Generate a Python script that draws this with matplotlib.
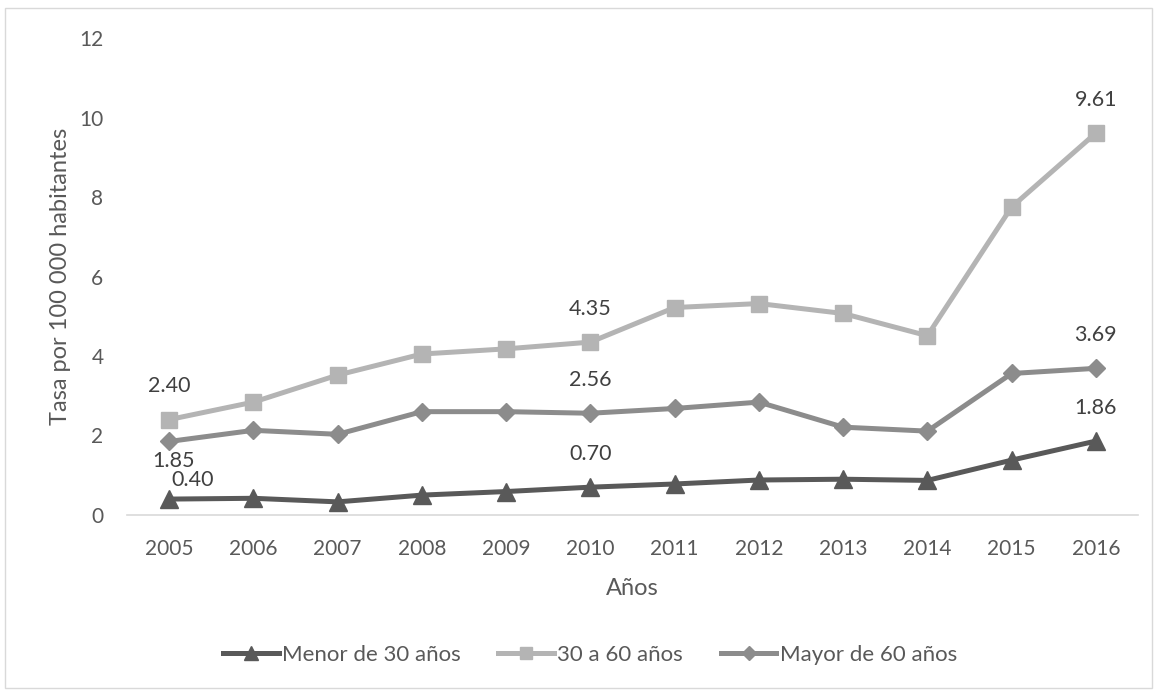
import matplotlib.pyplot as plt
from matplotlib.patches import Rectangle

plt.rcParams['font.family'] = ['Lato', 'DejaVu Sans']

years = ['2005', '2006', '2007', '2008', '2009', '2010',
         '2011', '2012', '2013', '2014', '2015', '2016']
menor_30 = [0.40, 0.42, 0.33, 0.50, 0.59, 0.70, 0.78, 0.88, 0.90, 0.87, 1.38, 1.86]
de_30_a_60 = [2.40, 2.84, 3.52, 4.05, 4.18, 4.35, 5.22, 5.32, 5.07, 4.51, 7.75, 9.61]
mayor_60 = [1.85, 2.13, 2.03, 2.60, 2.60, 2.56, 2.68, 2.84, 2.21, 2.11, 3.56, 3.69]

text_col = '#595959'
x = list(range(len(years)))

fig = plt.figure(figsize=(11.59, 6.92), dpi=100)
ax = fig.add_axes([0.1096, 0.2558, 0.8723, 0.6892])

# outer chart border
fig.patches.append(Rectangle((5 / 1159, 4 / 692), 1147 / 1159, 680 / 692,
                             transform=fig.transFigure, fill=False,
                             edgecolor='#d9d9d9', linewidth=1))

l1, = ax.plot(x, menor_30, color='#595959', lw=3.6, marker='^', ms=13,
              label='Menor de 30 años', zorder=4)
l2, = ax.plot(x, de_30_a_60, color='#b4b4b4', lw=3.6, marker='s', ms=11,
              label='30 a 60 años', zorder=3)
l3, = ax.plot(x, mayor_60, color='#8c8c8c', lw=3.6, marker='D', ms=9,
              label='Mayor de 60 años', zorder=3)

# data labels
def label(i, series, dx=0, dy=24):
    ax.annotate(f'{series[i]:.2f}', (x[i], series[i]), xytext=(dx, dy),
                textcoords='offset points', ha='center', va='center',
                fontsize=15.5, color='#404040')

for i in (0, 5, 11):
    label(i, de_30_a_60)
label(0, mayor_60, dx=3, dy=-14)
label(5, mayor_60)
label(11, mayor_60)
label(0, menor_30, dx=17, dy=14)
label(5, menor_30)
label(11, menor_30)

ax.set_xlim(-0.5, 11.5)
ax.set_ylim(0, 12)
ax.set_xticks(x)
ax.set_xticklabels(years)
ax.set_yticks(range(0, 13, 2))
ax.tick_params(axis='both', length=0, labelsize=15, colors=text_col)
ax.tick_params(axis='x', pad=17)
ax.tick_params(axis='y', pad=17)
for s in ('top', 'right', 'left'):
    ax.spines[s].set_visible(False)
ax.spines['bottom'].set_color('#d9d9d9')
ax.spines['bottom'].set_linewidth(1.2)

ax.set_xlabel('Años', fontsize=17, color=text_col, labelpad=14)
ax.set_ylabel('Tasa por 100 000 habitantes', fontsize=17, color=text_col, labelpad=6)

fig.legend(handles=[l1, l2, l3], loc='center', bbox_to_anchor=(0.509, 0.054),
           ncol=3, frameon=False, fontsize=16, handlelength=2.5,
           handletextpad=0.15, columnspacing=1.7, markerscale=0.8,
           labelcolor=text_col)

fig.savefig('out.png', dpi=100)
